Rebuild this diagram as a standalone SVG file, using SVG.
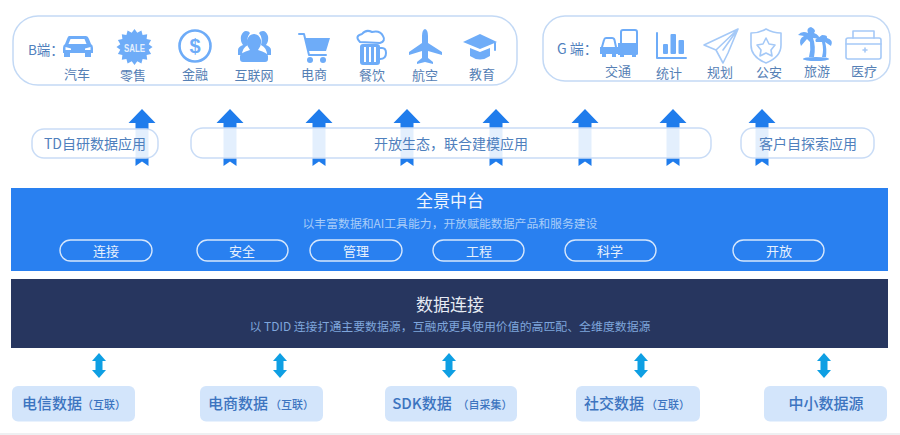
<svg xmlns="http://www.w3.org/2000/svg" width="900" height="435" viewBox="0 0 900 435">
<style>
text{font-family:"Noto Sans CJK SC","Noto Sans","Liberation Sans",sans-serif;text-anchor:middle}
.panel{fill:#fff;stroke:#c3d9f5;stroke-width:1.5}
.pill{fill:#fff;fill-opacity:.88;stroke:#c9dcf6;stroke-width:1.5}
.ic{fill:#6eacf8}
.wh{fill:#fff}
.il{fill:none;stroke:#6eacf8;stroke-width:2;stroke-linejoin:round;stroke-linecap:round}
.il2{fill:none;stroke:#a5c9f7;stroke-width:1.6;stroke-linejoin:round;stroke-linecap:round}
.lb{font-size:13px;fill:#5580b5}
.pt{font-size:14px;fill:#4f80bd}
.wp{fill:none;stroke:#d5e6fc;stroke-width:1.4}
.wt{font-size:13px;fill:#e6f0fd}
.src{fill:#d3e5fb}
.st{font-size:15px;fill:#3c74c0;font-weight:500}
.ss{font-size:11px;fill:#3c74c0;font-weight:500}
</style>
<defs>
<path id="up" d="M0 0L13.500 14H6.500V57L0 52.500L-6.500 57V14H-13.500Z" fill="#1f7cec"/>
<path id="dbl" d="M0 0L7 8H3.500V17H7L0 25L-7 17H-3.500V8H-7Z" fill="#0e9fe3"/>
</defs>
<rect width="900" height="435" fill="#fff"/>
<rect y="433" width="900" height="2" fill="#eef0f2"/>

<g id="connectors">
<use href="#up" x="142" y="109"/><use href="#up" x="230" y="109"/><use href="#up" x="319" y="109"/><use href="#up" x="407" y="109"/>
<use href="#up" x="496" y="109"/><use href="#up" x="585" y="109"/><use href="#up" x="673" y="109"/><use href="#up" x="762" y="109"/>
<use href="#dbl" x="99" y="353"/><use href="#dbl" x="280" y="353"/><use href="#dbl" x="449" y="353"/><use href="#dbl" x="641" y="353"/><use href="#dbl" x="824" y="353"/>
</g>

<g id="b-panel">
<rect class="panel" x="13" y="16" width="504" height="69" rx="25"/>
<text x="28" y="55" font-size="13.500" fill="#4f80bd" style="text-anchor:start">B端&#xFF1A;</text>
</g>
<g id="b-car">
<path class="ic" d="M69 36H86Q88 36 89 39L91 44Q93 45 93 48V53H91V57H85V53H70V57H64V53H63V48Q63 45 65 44L67 39Q68 36 69 36Z"/>
<path class="wh" d="M70.500 39H84.500L86.500 44H68.500Z"/>
<path class="wh" d="M65.500 47L71 48.500V50H65.500ZM90.500 47L85 48.500V50H90.500Z"/>
<text class="lb" x="77" y="79">汽车</text>
</g>
<g id="b-retail">
<polygon class="ic" transform="translate(134.500,47)" points="18,0 14.200,2.800 16.600,6.900 12.100,8.100 12.700,12.700 8.100,12.100 6.900,16.600 2.800,14.200 0,18 -2.800,14.200 -6.900,16.600 -8.100,12.100 -12.700,12.700 -12.100,8.100 -16.600,6.900 -14.200,2.800 -18,0 -14.200,-2.800 -16.600,-6.900 -12.100,-8.100 -12.700,-12.700 -8.100,-12.100 -6.900,-16.600 -2.800,-14.200 0,-18 2.800,-14.200 6.900,-16.600 8.100,-12.100 12.700,-12.700 12.100,-8.100 16.600,-6.900 14.200,-2.800"/>
<text x="134.500" y="52" font-size="10" font-weight="700" textLength="21" lengthAdjust="spacingAndGlyphs" fill="#e4effd" style="font-family:'Liberation Sans',sans-serif">SALE</text>
<text class="lb" x="133" y="80">零售</text>
</g>
<g id="b-finance">
<circle cx="195" cy="46" r="15.500" fill="none" stroke="#6eacf8" stroke-width="2.600"/>
<text x="195" y="53" font-size="20" font-weight="700" fill="#6eacf8" style="font-family:'Liberation Sans',sans-serif">$</text>
<text class="lb" x="195" y="79">金融</text>
</g>
<g id="b-internet">
<path class="ic" d="M238 55V50Q238 47 243 45Q240 41 241 36Q243 31 246 31Q249 31 250 33Q246 38 248 45Q242 48 242 55Z"/>
<path class="ic" d="M271 55V50Q271 47 266 45Q269 41 268 36Q266 31 263 31Q260 31 259 33Q263 38 261 45Q267 48 267 55Z"/>
<path class="ic" d="M243 62Q240 62 240 59V56Q240 53 250 50Q246 45 247 40Q249 34 254 34Q259 34 261 40Q262 45 258 50Q268 53 268 56V59Q268 62 265 62Z"/>
<text class="lb" x="254" y="80">互联网</text>
</g>
<g id="b-ecom">
<path class="il" d="M299 34H304L309 55H326" stroke-width="2.400"/>
<path class="ic" d="M305 38H330L326 51H308Z"/>
<circle class="ic" cx="310" cy="60" r="3"/><circle class="ic" cx="323" cy="60" r="3"/>
<text class="lb" x="314" y="79">电商</text>
</g>
<g id="b-food">
<path class="il" d="M360 42Q354 36 362 34Q366 29 372 32Q380 30 383 36Q386 41 380 43Z" stroke-width="2.200"/>
<rect class="ic" x="360" y="44" width="20" height="21" rx="3"/>
<path d="M365 47V62M370 47V62M375 47V62" stroke="#fff" stroke-width="2" fill="none"/>
<path class="il" d="M380 48H382Q386 48 386 53Q386 59 380 59" stroke-width="3"/>
<text class="lb" x="372" y="80">餐饮</text>
</g>
<g id="b-air">
<path class="ic" d="M425 29Q428 30 428 36V43L442 52V55L428 51V58L433 62V64L425 62L417 64V62L422 58V51L409 55V52L422 43V36Q422 30 425 29Z"/>
<text class="lb" x="425" y="80">航空</text>
</g>
<g id="b-edu">
<path class="ic" d="M480 34L497 42L480 49L463 42Z"/>
<path class="ic" d="M470 48L480 52L490 48V56Q480 63 470 56Z"/>
<path class="il" d="M495 43V50" stroke-width="1.500"/>
<text class="lb" x="482" y="79">教育</text>
</g>

<g id="g-panel">
<rect class="panel" x="543" y="16" width="347" height="65" rx="22"/>
<text x="557" y="54" font-size="14" fill="#4f80bd" style="text-anchor:start">G 端&#xFF1A;</text>
</g>
<g id="g-traffic">
<path class="il" d="M621 44V32Q621 30 623 30H635Q637 30 637 32V44" stroke-width="1.800"/>
<path class="ic" d="M618 43H638V54Q638 55 636 55V57H632V55H624V57H620V55H618Z"/>
<path class="il" d="M602 47L604 40Q604.500 38 606 38H612Q614 38 614.500 40L616 47" stroke-width="1.800"/>
<path class="ic" d="M600 47H618V54H616V57H612V54H606V57H602V54H600Z"/>
<text class="lb" x="618" y="76">交通</text>
</g>
<g id="g-stats">
<path class="il" d="M657 33V58H686" stroke-width="2.200"/>
<rect class="ic" x="663" y="44" width="5" height="10" rx="1"/><rect class="ic" x="670.500" y="34" width="5.500" height="20" rx="1"/><rect class="ic" x="678.500" y="40" width="5.500" height="14" rx="1"/>
<text class="lb" x="669" y="78">统计</text>
</g>
<g id="g-plan">
<path class="il2" d="M738 29L704 45L716 50L723 63L728 53ZM738 29L716 50M738 29L723 50"/>
<text class="lb" x="720" y="77">规划</text>
</g>
<g id="g-police">
<path class="il2" d="M766 29Q773 33 781 33V45Q781 57 766 63Q751 57 751 45V33Q759 33 766 29Z" stroke-width="2"/>
<polygon class="il2" points="766,38 769,44 775,45 771,50 772,56 766,53 760,56 761,50 757,45 763,44" stroke-width="1.800"/>
<text class="lb" x="769" y="77">公安</text>
</g>
<g id="g-travel">
<path class="ic" d="M811 27Q806 28 808 33Q802 30 798 35L804 36Q798 39 801 46L807 39L810 42Q811 50 809 57H814Q816 46 813 38Q818 38 820 41Q820 35 814 33Q817 30 811 27Z"/>
<path class="ic" d="M822 35L818 38Q814 39 816 42L822 42Q824 50 822 57H826Q827 48 825 42L831 46Q834 40 827 38Q828 35 822 35Z"/>
<ellipse class="ic" cx="816" cy="59" rx="13" ry="2"/>
<text class="lb" x="817" y="76">旅游</text>
</g>
<g id="g-medical">
<rect class="il2" x="846" y="38" width="35" height="21" rx="2"/>
<path class="il2" d="M853 38V31H874V38M846 44H881M863 50H867M865 48V52"/>
<text class="lb" x="864" y="76">医疗</text>
</g>

<g id="app-td"><rect class="pill" x="32" y="129" width="126" height="29" rx="12"/><text class="pt" x="95" y="149">TD自研数据应用</text></g>
<g id="app-open"><rect class="pill" x="191" y="128" width="520" height="30" rx="12"/><text class="pt" x="451" y="149">开放生态&#xFF0C;联合建模应用</text></g>
<g id="app-cust"><rect class="pill" x="741" y="128" width="133" height="30" rx="12"/><text class="pt" x="808" y="149">客户自探索应用</text></g>

<g id="platform">
<rect x="11" y="188" width="877" height="83" fill="#2980f0"/>
<text x="450" y="207" font-size="17" fill="#eef5fe">全景中台</text>
<text x="450" y="228" font-size="11.850" fill="#a8cdf9">以丰富数据和AI工具能力&#xFF0C;开放赋能数据产品和服务建设</text>
</g>
<g id="p-connect"><rect class="wp" x="60" y="240" width="92" height="21" rx="10.500"/><text class="wt" x="106" y="255.500">连接</text></g>
<g id="p-secure"><rect class="wp" x="197" y="240" width="91" height="21" rx="10.500"/><text class="wt" x="242" y="255.500">安全</text></g>
<g id="p-manage"><rect class="wp" x="310" y="240" width="92" height="21" rx="10.500"/><text class="wt" x="356" y="255.500">管理</text></g>
<g id="p-engineer"><rect class="wp" x="433" y="240" width="91" height="21" rx="10.500"/><text class="wt" x="479" y="255.500">工程</text></g>
<g id="p-science"><rect class="wp" x="565" y="240" width="91" height="21" rx="10.500"/><text class="wt" x="610" y="255.500">科学</text></g>
<g id="p-open"><rect class="wp" x="733" y="240" width="91" height="21" rx="10.500"/><text class="wt" x="779" y="255.500">开放</text></g>

<g id="data-link">
<rect x="11" y="279" width="877" height="69" fill="#27365f"/>
<text x="450" y="311" font-size="17" fill="#e6ebf3">数据连接</text>
<text x="450" y="331" font-size="11.900" fill="#7fa6dc">以 TDID 连接打通主要数据源&#xFF0C;互融成更具使用价值的高匹配、全维度数据源</text>
</g>

<g id="src-telecom"><rect class="src" x="12" y="386" width="123" height="35.500" rx="6"/><text class="st" x="52" y="409">电信数据</text><text class="ss" x="104" y="409">&#xFF08;互联&#xFF09;</text></g>
<g id="src-ecom"><rect class="src" x="200" y="386" width="123" height="35.500" rx="6"/><text class="st" x="238" y="409">电商数据</text><text class="ss" x="292" y="409">&#xFF08;互联&#xFF09;</text></g>
<g id="src-sdk"><rect class="src" x="385" y="386" width="132" height="35.500" rx="6"/><text class="st" x="422" y="409">SDK数据</text><text class="ss" x="485" y="409">&#xFF08;自采集&#xFF09;</text></g>
<g id="src-social"><rect class="src" x="576" y="386" width="124" height="35.500" rx="6"/><text class="st" x="614" y="409">社交数据</text><text class="ss" x="668" y="409">&#xFF08;互联&#xFF09;</text></g>
<g id="src-sme"><rect class="src" x="764" y="386" width="123" height="35.500" rx="6"/><text class="st" x="826" y="409">中小数据源</text></g>
</svg>
